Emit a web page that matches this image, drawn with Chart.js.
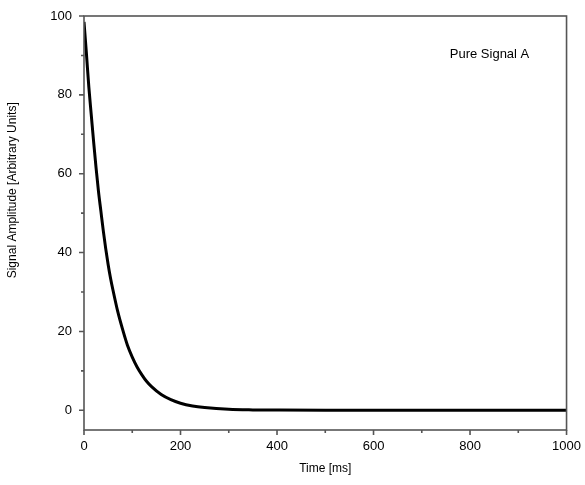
<!DOCTYPE html>
<html>
<head>
<meta charset="utf-8">
<script src="https://cdn.jsdelivr.net/npm/chart.js@4"></script>
<style>
  html, body { margin: 0; padding: 0; background: #fff; }
  #wrap { width: 585px; height: 485px; }
</style>
</head>
<body>
<div id="wrap"><canvas id="mycanvas" width="585" height="485"></canvas></div>
<script>
// values
var timeMs = [0, 5, 10, 15, 20, 25, 30, 35, 40, 45, 50, 55, 60, 70, 80, 90, 100, 110, 120, 130, 140, 160, 180, 200, 225, 250, 300, 350, 400, 500, 600, 700, 800, 900, 1000];
var amplitude = [98.5, 90.5, 82, 75, 68, 61.5, 55.5, 50.5, 45.5, 41, 37, 33.5, 30.5, 25, 20.5, 16.5, 13.5, 11, 9, 7.3, 6, 4, 2.7, 1.8, 1.1, 0.7, 0.25, 0.1, 0.05, 0, 0, 0, 0, 0, 0];
var xMajor = [0, 200, 400, 600, 800, 1000];
var xMinor = [100, 300, 500, 700, 900];
var yMajor = [0, 20, 40, 60, 80, 100];
var yMinor = [10, 30, 50, 70, 90];
var seriesLabel = "Pure Signal A";
var xTitle = "Time [ms]";
var yTitle = "Signal Amplitude [Arbitrary Units]";

var axisColor = '#555555';
var fontFamily = '"Liberation Sans", Arial, sans-serif';

var points = [];
for (var i in timeMs) {
    points.push({ x: timeMs[i], y: amplitude[i] });
}

var frameAndTicks = {
    id: 'frameAndTicks',
    afterDatasetsDraw: function (chart) {
        var c = chart.ctx, a = chart.chartArea;
        var xs = chart.scales.x, ys = chart.scales.y;
        c.save();
        c.strokeStyle = axisColor;
        c.lineWidth = 1.6;
        c.strokeRect(a.left, a.top, a.right - a.left, a.bottom - a.top);
        c.beginPath();
        xMajor.forEach(function (v) { var p = xs.getPixelForValue(v); c.moveTo(p, a.bottom); c.lineTo(p, a.bottom + 5); });
        xMinor.forEach(function (v) { var p = xs.getPixelForValue(v); c.moveTo(p, a.bottom); c.lineTo(p, a.bottom + 3); });
        yMajor.forEach(function (v) { var p = ys.getPixelForValue(v); c.moveTo(a.left, p); c.lineTo(a.left - 5, p); });
        yMinor.forEach(function (v) { var p = ys.getPixelForValue(v); c.moveTo(a.left, p); c.lineTo(a.left - 3, p); });
        c.stroke();

        c.fillStyle = '#000';
        c.font = '13px ' + fontFamily;
        c.textBaseline = 'middle';
        c.textAlign = 'left';
        c.fillText(seriesLabel, xs.getPixelForValue(758), ys.getPixelForValue(90.2));

        c.font = '12px ' + fontFamily;
        c.textAlign = 'center';
        c.fillText(xTitle, (a.left + a.right) / 2, 469);
        c.translate(13, ys.getPixelForValue(55.8));
        c.rotate(-Math.PI / 2);
        c.fillText(yTitle, 0, 0);
        c.restore();
    }
};

var chartdata = {
    datasets: [
        {
            label: seriesLabel,
            data: points,
            fill: false,
            borderColor: '#000',
            backgroundColor: '#000',
            borderWidth: 3,
            pointRadius: 0,
            cubicInterpolationMode: 'monotone'
        }
    ]
};

var ctx = document.getElementById('mycanvas');
var lineGraph = new Chart(ctx, {
    type: 'line',
    data: chartdata,
    plugins: [frameAndTicks],
    options: {
        responsive: false,
        animation: false,
        layout: { padding: { top: 16, right: 17, left: 0, bottom: 0 } },
        plugins: {
            legend: { display: false },
            tooltip: { enabled: false }
        },
        scales: {
            x: {
                type: 'linear',
                min: 0,
                max: 1000,
                afterBuildTicks: function (s) { s.ticks = xMajor.map(function (v) { return { value: v }; }); },
                afterFit: function (s) { s.height = 55; },
                grid: { drawOnChartArea: false, tickLength: 5, tickColor: 'rgba(0,0,0,0)' },
                border: { display: false },
                ticks: {
                    color: '#000', padding: 4, maxRotation: 0,
                    font: { family: fontFamily, size: 13 },
                    callback: function (v) { return String(v); }
                }
            },
            y: {
                min: -5,
                max: 100,
                afterBuildTicks: function (s) { s.ticks = yMajor.map(function (v) { return { value: v }; }); },
                afterFit: function (s) { s.width = 84; },
                grid: { drawOnChartArea: false, tickLength: 5, tickColor: 'rgba(0,0,0,0)' },
                border: { display: false },
                ticks: {
                    color: '#000', padding: 7,
                    font: { family: fontFamily, size: 13 },
                    callback: function (v) { return String(v); }
                }
            }
        }
    }
});
</script>
</body>
</html>
